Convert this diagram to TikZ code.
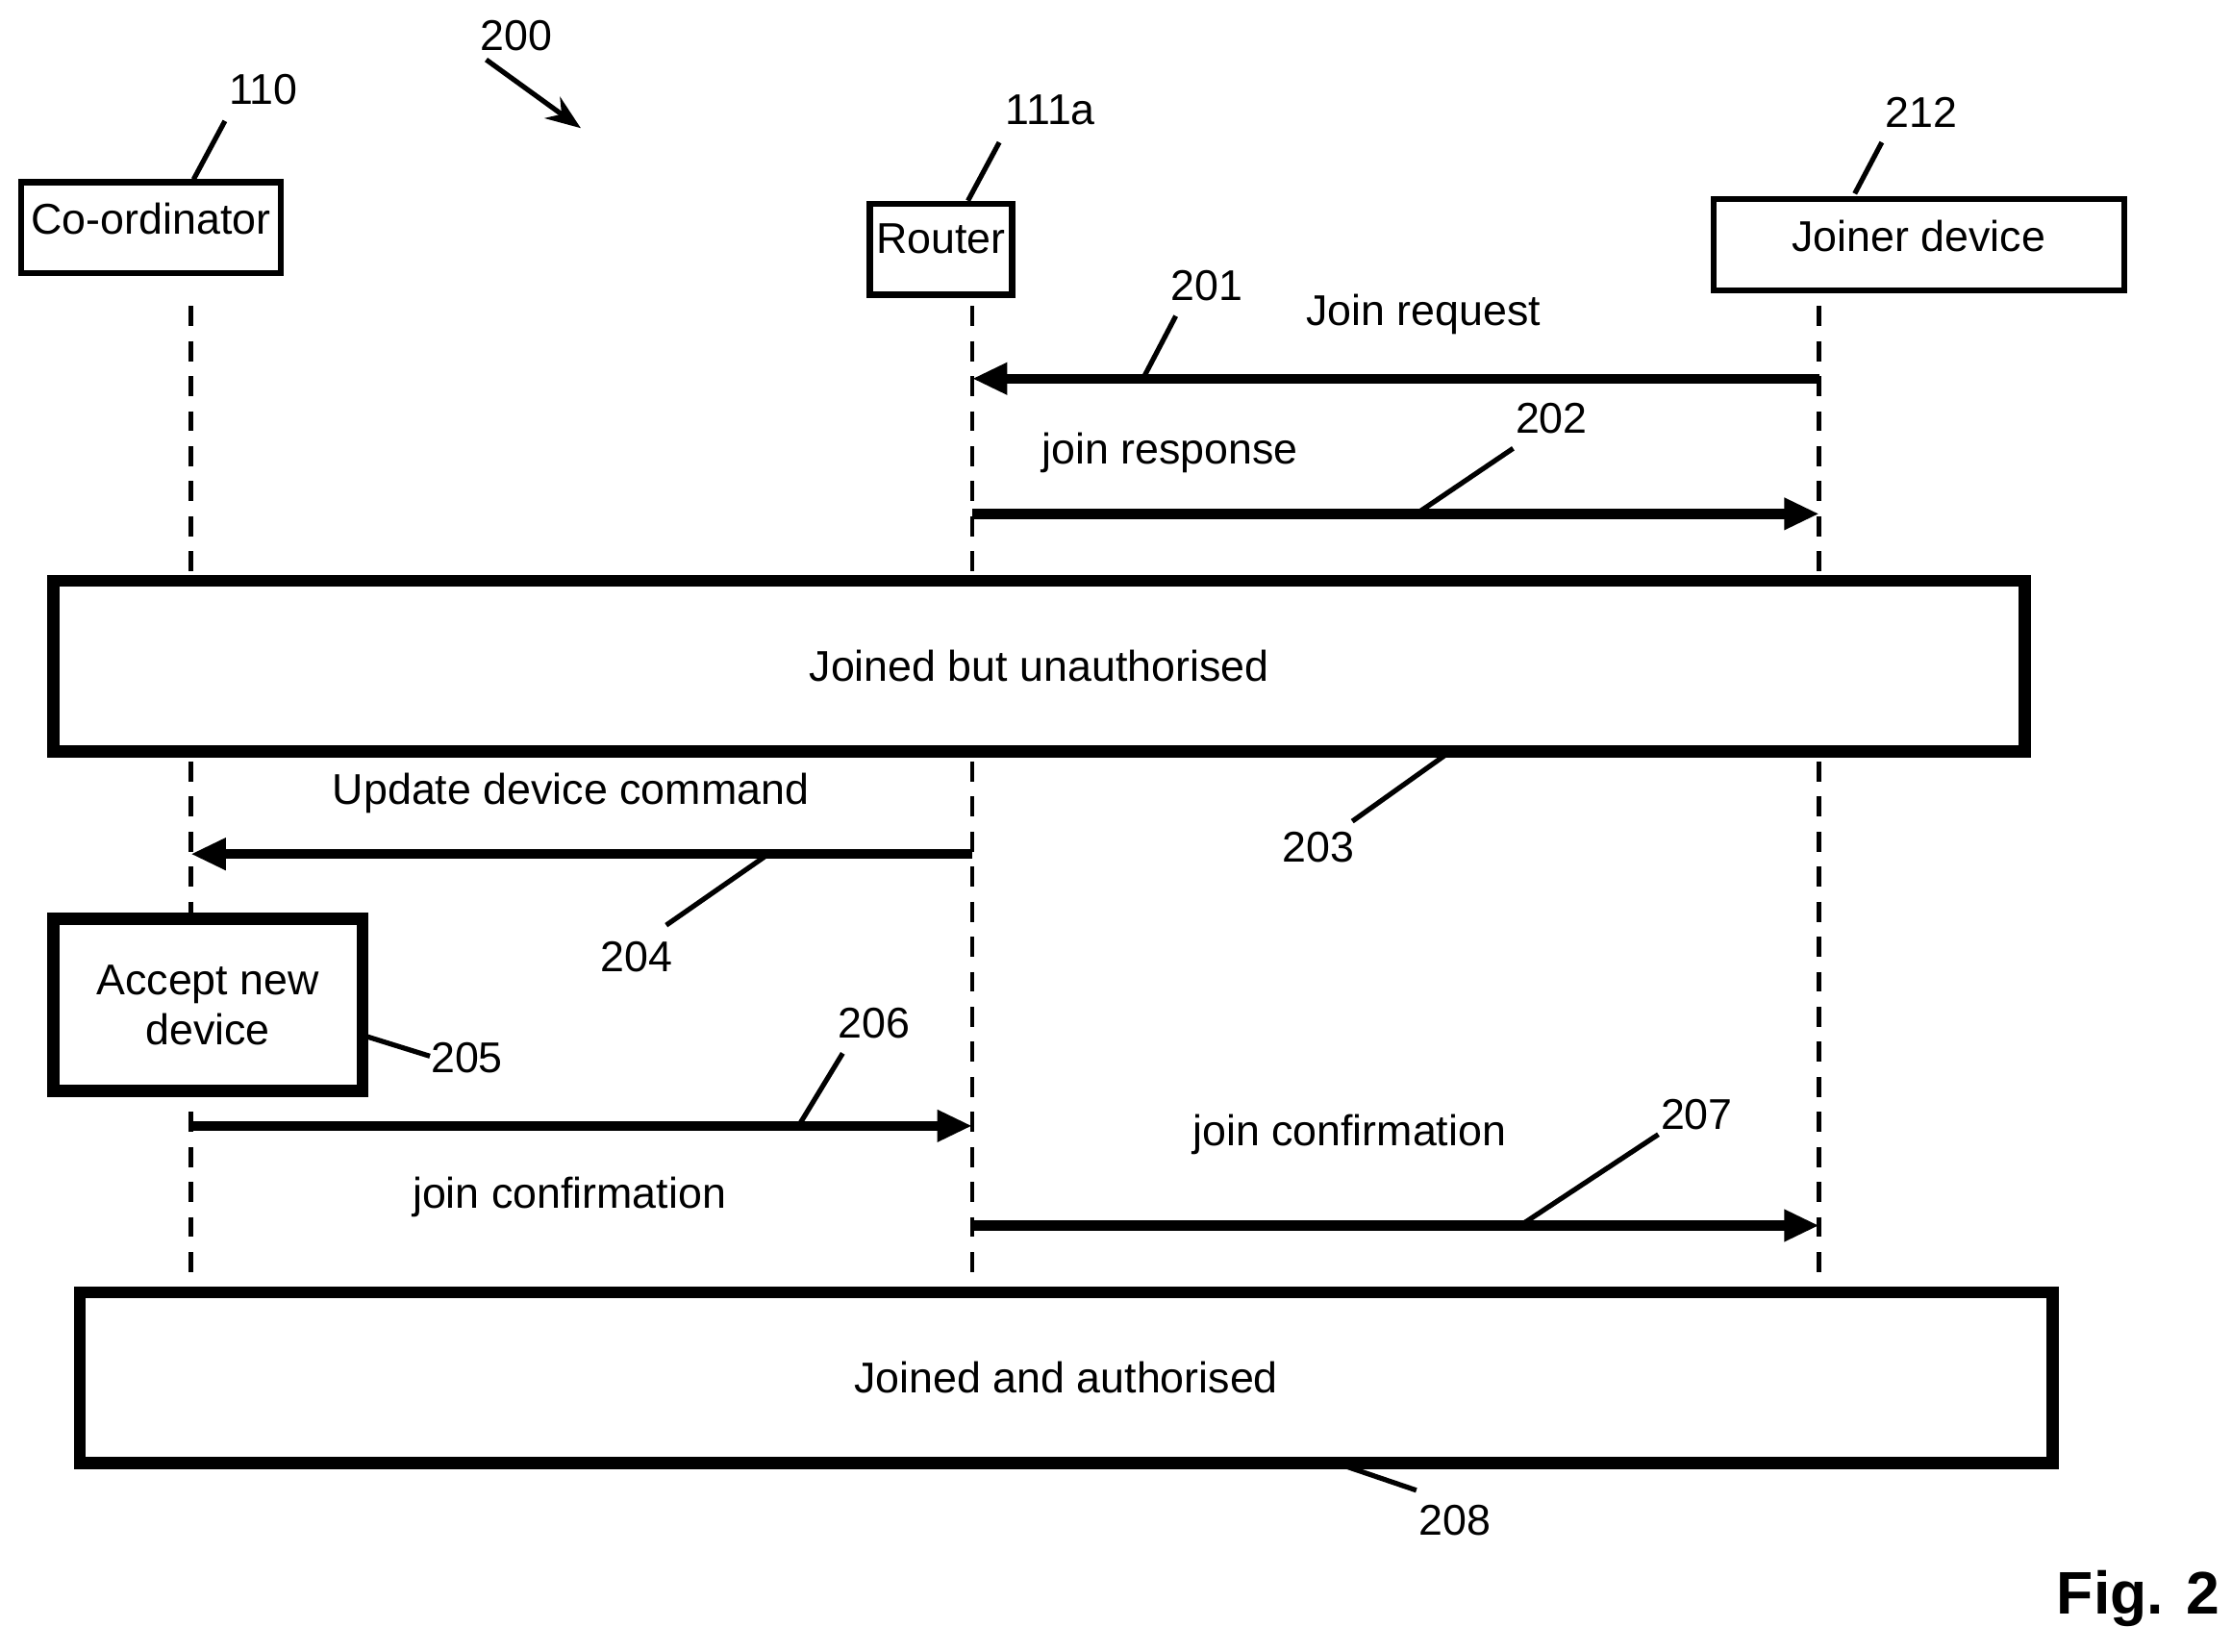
\documentclass[tikz,border=0pt]{standalone}
\usepackage{fontspec}
\setmainfont{Liberation Sans}
\usetikzlibrary{arrows.meta, positioning}

\tikzset{
  actor/.style={draw, line width=1.2pt, minimum height=0.64cm, inner sep=0pt},
  state/.style={draw, line width=2.4pt, inner sep=0pt},
  life/.style={dashed, line width=0.9pt, dash pattern=on 4pt off 3pt},
  msg/.style={line width=2pt, -{Triangle[length=7pt,width=6pt]}},
  lead/.style={line width=1pt},
  lbl/.style={inner sep=1pt}
}

\begin{document}
\begin{tikzpicture}[x=0.01cm, y=-0.01cm, font=\fontsize{8.6}{10}\selectfont]
  \useasboundingbox (0,0) rectangle (1568,1160);

  % participants
  \node[actor, minimum width=1.82cm] (coord) at (106,160) {};
  \node[anchor=north] at (106,130) {Co-ordinator};
  \node[actor, minimum width=1.00cm] (router) at (661,175) {};
  \node[anchor=north] at (661,145) {Router};
  \node[actor, minimum width=2.88cm] (joiner) at (1348,172) {};
  \node[anchor=north] at (1348,142) {Joiner device};

  % lifelines
  \coordinate (cT) at (134,215); \coordinate (cB) at (134,905);
  \coordinate (rT) at (683,215); \coordinate (rB) at (683,905);
  \coordinate (jT) at (1278,215); \coordinate (jB) at (1278,905);
  \draw[life] (cT) -- (cB);
  \draw[life] (rT) -- (rB);
  \draw[life] (jT) -- (jB);

  % states
  \node[state, minimum width=13.84cm, minimum height=1.2cm, fill=white] (unauth) at (730,468) {Joined but unauthorised};
  \node[state, minimum width=2.17cm, minimum height=1.21cm, fill=white, align=center] (accept) at (146,706) {Accept new\\device};
  \node[state, minimum width=13.85cm, minimum height=1.2cm, fill=white] (auth) at (749,968) {Joined and authorised};

  % messages
  \coordinate (m1a) at (1278,266); \coordinate (m1b) at (683,266);
  \coordinate (m2a) at (683,361);  \coordinate (m2b) at (1278,361);
  \coordinate (m4a) at (683,600);  \coordinate (m4b) at (134,600);
  \coordinate (m6a) at (134,791);  \coordinate (m6b) at (683,791);
  \coordinate (m7a) at (683,861);  \coordinate (m7b) at (1278,861);
  \draw[msg] (m1a) -- (m1b);
  \draw[msg] (m2a) -- (m2b);
  \draw[msg] (m4a) -- (m4b);
  \draw[msg] (m6a) -- (m6b);
  \draw[msg] (m7a) -- (m7b);
  \node (t1) at (1000,221) {Join request};
  \node (t2) at (822,318) {join response};
  \node (t4) at (401,557) {Update device command};
  \node (t6) at (400,841) {join confirmation};
  \node (t7) at (948,797) {join confirmation};

  % reference numerals
  \node[lbl] (n200) at (363,25) {200};
  \node[lbl] (n110) at (185,63) {110};
  \node[lbl] (n111) at (738,77) {111a};
  \node[lbl] (n212) at (1350,79) {212};
  \node[lbl] (n201) at (848,201) {201};
  \node[lbl] (n202) at (1090,294) {202};
  \node[lbl] (n203) at (926,595) {203};
  \node[lbl] (n204) at (447,672) {204};
  \node[lbl] (n205) at (328,743) {205};
  \node[lbl] (n206) at (614,719) {206};
  \node[lbl] (n207) at (1192,783) {207};
  \node[lbl] (n208) at (1022,1068) {208};
  \node[font=\fontsize{12}{14}\selectfont\bfseries] (fig) at (1502,1123) {Fig. 2};

  \coordinate (a200) at (408,90);
  \draw[lead, -{Stealth[length=7pt]}] (n200.south west) ++(8,2) -- (a200);
  \draw[lead] (158,85) -- (136,126);
  \draw[lead] (702,100) -- (680,141);
  \draw[lead] (1322,100) -- (1303,136);
  \draw[lead] (826,222) -- (803,266);
  \draw[lead] (1063,315) -- (995,361);
  \draw[lead] (950,577) -- (1016,530);
  \draw[lead] (468,650) -- (537,602);
  \draw[lead] (257,728) -- (302,742);
  \draw[lead] (592,740) -- (561,791);
  \draw[lead] (1165,797) -- (1068,861);
  \draw[lead] (995,1047) -- (945,1030);
\end{tikzpicture}
\end{document}
